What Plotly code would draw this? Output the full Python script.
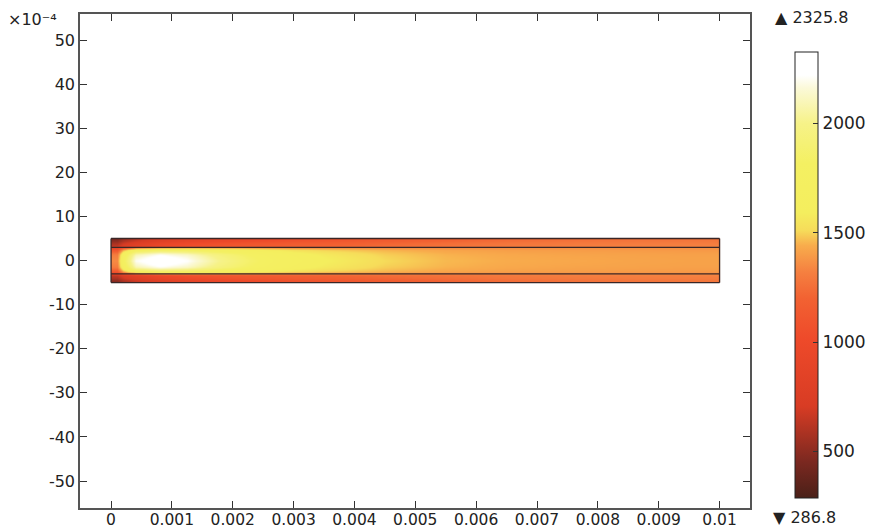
import plotly.graph_objects as go

# ---- data (y in units of 1e-4 m) ----
x_edges = [0, 0.0002, 0.0006, 0.001, 0.0015, 0.002, 0.0025, 0.003, 0.004, 0.005, 0.006, 0.007, 0.008, 0.009, 0.01]
y_edges = [-5, -4.4, -3.6, -3, -2, -1, 1, 2, 3, 3.6, 4.4, 5]

t_wall_outer = [480, 650, 780, 880, 950, 1000, 1040, 1090, 1150, 1200, 1240, 1260, 1275, 1280]
t_wall_mid = [580, 780, 920, 1010, 1060, 1100, 1130, 1170, 1215, 1250, 1280, 1295, 1305, 1310]
t_wall_inner = [650, 850, 980, 1060, 1100, 1130, 1160, 1200, 1240, 1270, 1295, 1310, 1320, 1325]
t_core_edge = [1100, 1700, 1800, 1780, 1700, 1620, 1560, 1490, 1450, 1420, 1405, 1400, 1395, 1390]
t_core_mid = [1300, 2080, 2200, 2120, 1950, 1820, 1700, 1570, 1490, 1450, 1430, 1420, 1415, 1410]
t_core_center = [1350, 2200, 2320, 2220, 2020, 1870, 1740, 1600, 1510, 1460, 1440, 1430, 1420, 1415]

t_min = 286.8
t_max = 2325.8

x_tick_vals = [0, 0.001, 0.002, 0.003, 0.004, 0.005, 0.006, 0.007, 0.008, 0.009, 0.01]
x_tick_text = ["0", "0.001", "0.002", "0.003", "0.004", "0.005", "0.006", "0.007", "0.008", "0.009", "0.01"]
y_tick_vals = [-50, -40, -30, -20, -10, 0, 10, 20, 30, 40, 50]
y_tick_text = ["-50", "-40", "-30", "-20", "-10", "0", "10", "20", "30", "40", "50"]
cb_tick_vals = [500, 1000, 1500, 2000]

channel_x = [0, 0.01]
wall_y = [-5, 5]
core_y = [-3, 3]

z = [t_wall_outer, t_wall_mid, t_wall_inner, t_core_edge, t_core_mid, t_core_center,
     t_core_mid, t_core_edge, t_wall_inner, t_wall_mid, t_wall_outer]

colorscale = [
    [0.0, "#4a2018"],
    [0.08, "#7a2820"],
    [0.206, "#d83c24"],
    [0.357, "#ee4a2a"],
    [0.448, "#f26232"],
    [0.507, "#f58040"],
    [0.566, "#f8ac4c"],
    [0.60, "#f6dc5a"],
    [0.64, "#f4ee5e"],
    [0.75, "#f4f062"],
    [0.84, "#f6f288"],
    [0.919, "#fbf9d8"],
    [0.948, "#ffffff"],
    [1.0, "#ffffff"],
]

FONT = "DejaVu Sans"
# the page body adds an 8px offset; plot area target in window px: x 80..750, y 14..508
fig = go.Figure()
fig.add_trace(go.Heatmap(
    x=x_edges, y=y_edges, z=z, zsmooth="best",
    colorscale=colorscale, zmin=t_min, zmax=t_max,
    colorbar=dict(
        x=(795 - 80) / 670, xanchor="left", xpad=0,
        y=(508 - 275) / 494, yanchor="middle", ypad=0,
        len=446, lenmode="pixels", thickness=23,
        outlinecolor="#222", outlinewidth=1,
        tickvals=cb_tick_vals, ticks="inside", ticklen=5, tickcolor="#333",
        tickfont=dict(family=FONT, size=17, color="#222"),
    ),
    hoverinfo="skip",
))

line_style = dict(color="#3a2626", width=1.3)
for yy in wall_y + core_y:
    fig.add_trace(go.Scatter(x=channel_x, y=[yy, yy], mode="lines", line=line_style,
                             showlegend=False, hoverinfo="skip"))
for xx in channel_x:
    fig.add_trace(go.Scatter(x=[xx, xx], y=wall_y, mode="lines", line=line_style,
                             showlegend=False, hoverinfo="skip"))

fig.update_xaxes(range=[-0.00051, 0.0105], tickvals=x_tick_vals, ticktext=x_tick_text,
                 ticks="inside", ticklen=7, tickcolor="#333", showline=True, linecolor="#555",
                 linewidth=1.5, mirror="ticks", showgrid=False, zeroline=False,
                 ticklabelstandoff=-3,
                 tickfont=dict(family=FONT, size=15.5, color="#222"))
fig.update_yaxes(range=[-56.1, 55.9], tickvals=y_tick_vals, ticktext=y_tick_text,
                 ticks="inside", ticklen=7, tickcolor="#333", showline=True, linecolor="#555",
                 linewidth=1.5, mirror="ticks", showgrid=False, zeroline=False,
                 tickfont=dict(family=FONT, size=16, color="#222"))

fig.add_annotation(text="×10⁻⁴", xref="paper", yref="paper", x=-0.11, y=1 + 6 / 494,
                   xanchor="left", yanchor="top", showarrow=False,
                   font=dict(family=FONT, size=16, color="#222"))
fig.add_annotation(text="▲ 2325.8", xref="paper", yref="paper", x=(773 - 80) / 670, y=(508 - 18) / 494,
                   xanchor="left", yanchor="middle", showarrow=False,
                   font=dict(family=FONT, size=16, color="#222"))
fig.add_annotation(text="▼ 286.8", xref="paper", yref="paper", x=(771 - 80) / 670, y=(508 - 517) / 494,
                   xanchor="left", yanchor="middle", showarrow=False,
                   font=dict(family=FONT, size=16, color="#222"))

fig.update_layout(width=875, height=522,
                  margin=dict(l=72, r=133, t=6, b=22, autoexpand=False),
                  plot_bgcolor="white", paper_bgcolor="white", showlegend=False)

fig.write_html("out.html")
